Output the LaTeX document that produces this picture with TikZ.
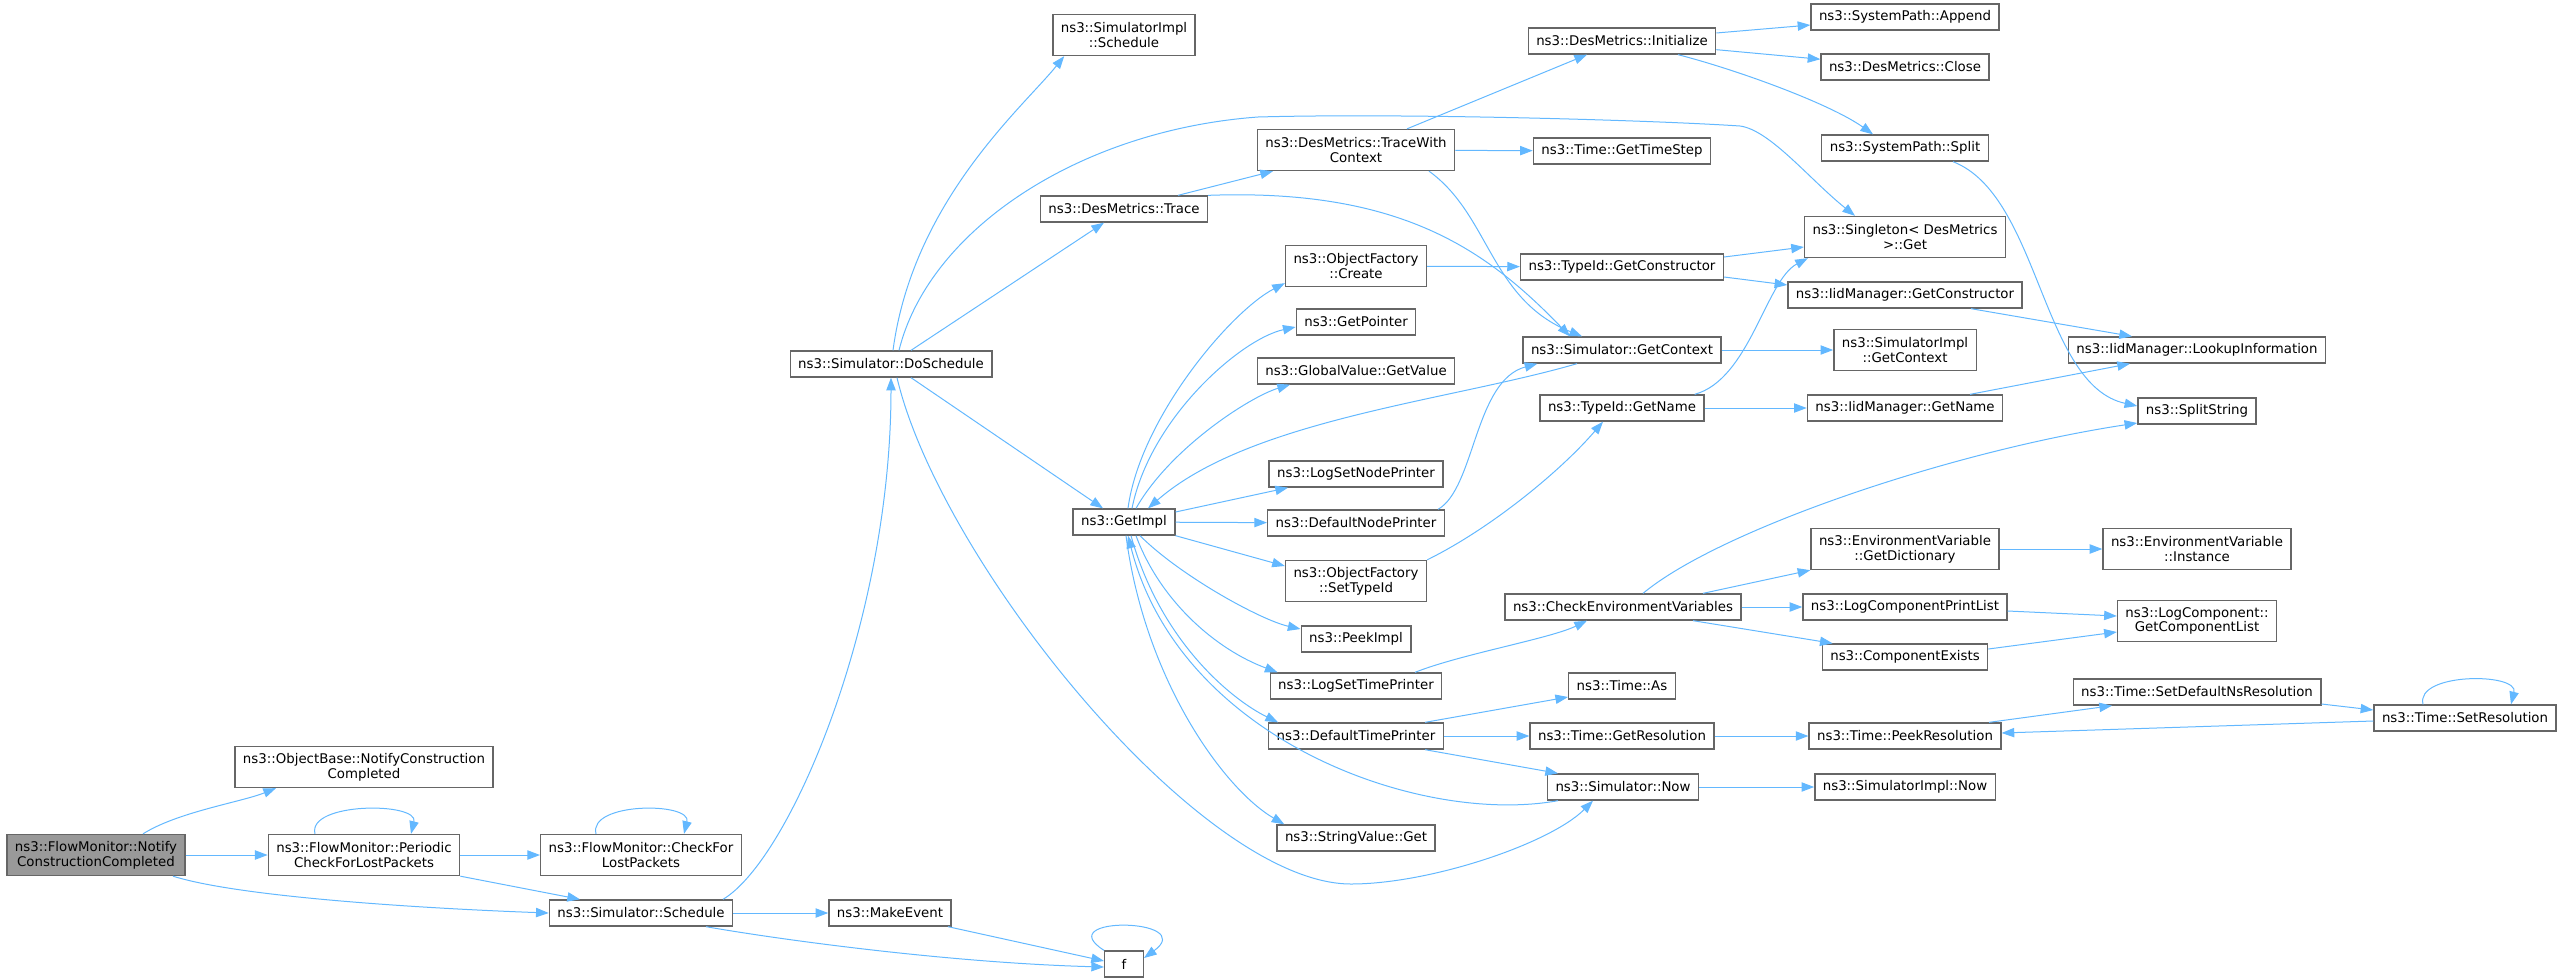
\documentclass[tikz,border=0pt]{standalone}
\usepackage{fontspec}
\setmainfont{DejaVu Sans}
\usetikzlibrary{arrows.meta}
\definecolor{callc}{HTML}{63B8FF}
\definecolor{boxc}{HTML}{666666}
\definecolor{rootc}{HTML}{999999}
\begin{document}
\begin{tikzpicture}[x=0.75pt,y=-0.75pt,
  fn/.style={draw=boxc,fill=white,line width=1pt,inner xsep=6pt,inner ysep=2pt,minimum height=19.5pt,align=center,font=\fontsize{10}{11.1}\selectfont},
  two/.style={fn,minimum height=30.75pt},
  rootfn/.style={two,fill=rootc},
  call/.style={draw=callc,line width=0.75pt,-{Triangle[length=9.5pt,width=7pt]}}]
\useasboundingbox (0,0) rectangle (2563,979);

\node[rootfn] (nc) at (96,855) {ns3::FlowMonitor::Notify\\ConstructionCompleted};
\node[two] (ob) at (364,767) {ns3::ObjectBase::NotifyConstruction\\Completed};
\node[two] (pc) at (364,855) {ns3::FlowMonitor::Periodic\\CheckForLostPackets};
\node[two] (cf) at (641,855) {ns3::FlowMonitor::CheckFor\\LostPackets};
\node[fn] (sch) at (641,913) {ns3::Simulator::Schedule};
\node[fn] (dos) at (891,364) {ns3::Simulator::DoSchedule};
\node[fn] (mk) at (890,913) {ns3::MakeEvent};
\node[two] (sis) at (1124,35) {ns3::SimulatorImpl\\::Schedule};
\node[fn] (tr) at (1124,209) {ns3::DesMetrics::Trace};
\node[fn] (gi) at (1124,522) {ns3::GetImpl};
\node[fn,minimum width=29pt] (f) at (1124,964) {f};
\node[two] (twc) at (1356,150) {ns3::DesMetrics::TraceWith\\Context};
\node[two] (ofc) at (1356,266) {ns3::ObjectFactory\\::Create};
\node[fn] (gp) at (1356,322) {ns3::GetPointer};
\node[fn] (gv) at (1356,371) {ns3::GlobalValue::GetValue};
\node[fn] (lsn) at (1356,474) {ns3::LogSetNodePrinter};
\node[fn] (dnp) at (1356,523) {ns3::DefaultNodePrinter};
\node[two] (sti) at (1356,581) {ns3::ObjectFactory\\::SetTypeId};
\node[fn] (pk) at (1356,639) {ns3::PeekImpl};
\node[fn] (lst) at (1356,686) {ns3::LogSetTimePrinter};
\node[fn] (dtp) at (1356,736) {ns3::DefaultTimePrinter};
\node[fn] (sv) at (1356,838) {ns3::StringValue::Get};
\node[fn] (ini) at (1622,41) {ns3::DesMetrics::Initialize};
\node[fn] (gts) at (1622,151) {ns3::Time::GetTimeStep};
\node[fn] (tgc) at (1622,267) {ns3::TypeId::GetConstructor};
\node[fn] (gc) at (1622,350) {ns3::Simulator::GetContext};
\node[fn] (tgn) at (1622,408) {ns3::TypeId::GetName};
\node[fn] (cev) at (1623,607) {ns3::CheckEnvironmentVariables};
\node[fn] (tas) at (1622,686) {ns3::Time::As};
\node[fn] (grs) at (1622,736) {ns3::Time::GetResolution};
\node[fn] (now) at (1623,787) {ns3::Simulator::Now};
\node[fn] (app) at (1905,17) {ns3::SystemPath::Append};
\node[fn] (cls) at (1905,67) {ns3::DesMetrics::Close};
\node[fn] (spl) at (1905,148) {ns3::SystemPath::Split};
\node[two] (sg) at (1905,237) {ns3::Singleton< DesMetrics\\>::Get};
\node[fn] (igc) at (1905,295) {ns3::IidManager::GetConstructor};
\node[two] (sigc) at (1905,350) {ns3::SimulatorImpl\\::GetContext};
\node[fn] (ign) at (1905,408) {ns3::IidManager::GetName};
\node[two] (gd) at (1905,549) {ns3::EnvironmentVariable\\::GetDictionary};
\node[fn] (lcp) at (1905,607) {ns3::LogComponentPrintList};
\node[fn] (ce) at (1905,657) {ns3::ComponentExists};
\node[fn] (prs) at (1905,736) {ns3::Time::PeekResolution};
\node[fn] (sin) at (1905,787) {ns3::SimulatorImpl::Now};
\node[fn] (lki) at (2197,350) {ns3::IidManager::LookupInformation};
\node[fn] (ss) at (2197,411) {ns3::SplitString};
\node[two] (evi) at (2197,549) {ns3::EnvironmentVariable\\::Instance};
\node[two] (gcl) at (2197,621) {ns3::LogComponent::\\GetComponentList};
\node[fn] (sdn) at (2197,692) {ns3::Time::SetDefaultNsResolution};
\node[fn] (srs) at (2465,718) {ns3::Time::SetResolution};

\draw[call] ([shift={(47,0)}]nc.north) .. controls +(35,-22) and +(-35,14) .. ([shift={(-88,0)}]ob.south);
\draw[call] (nc) -- (pc);
\draw[call] ([shift={(77,0)}]nc.south) .. controls +(70,22) and +(-110,-4) .. (sch.west);
\draw[call] ([shift={(-49,0)}]pc.north) .. controls +(-8,-32) and +(8,-32) .. ([shift={(47,0)}]pc.north);
\draw[call] (pc) -- (cf);
\draw[call] (pc.south east) -- ([shift={(-61,0)}]sch.north);
\draw[call] ([shift={(-45,0)}]cf.north) .. controls +(-8,-32) and +(8,-32) .. ([shift={(43,0)}]cf.north);
\draw[call] ([shift={(82,0)}]sch.north) .. controls +(67,-40) and +(0,243) .. (dos.south);
\draw[call] (sch) -- (mk);
\draw[call] ([shift={(65,0)}]sch.south) .. controls +(80,14) and +(-150,-4) .. ([shift={(0,3)}]f.west);
\draw[call] ([shift={(58,0)}]mk.south) -- ([shift={(0,-3)}]f.west);
\draw[call] (f.north west) .. controls +(-55,-35) and +(55,-40) .. ([shift={(0,-6)}]f.east);
\draw[call] ([shift={(2,0)}]dos.north) .. controls +(20,-150) and +(-40,50) .. ([shift={(12,0)}]sis.south west);
\draw[call] ([shift={(8,0)}]dos.north) .. controls +(30,-121) and +(-178,13) .. (1258,117) .. controls +(142,-4) and +(-90,-6) .. (1740,126) .. controls +(30,4) and +(-45,-36) .. ([shift={(-50,0)}]sg.north);
\draw[call] ([shift={(20,0)}]dos.north) -- ([shift={(-20,0)}]tr.south);
\draw[call] ([shift={(20,0)}]dos.south) -- ([shift={(-21,0)}]gi.north);
\draw[call] ([shift={(6,0)}]dos.south) .. controls +(43,183) and +(-151,0) .. (1351,884) .. controls +(79,0) and +(-43,43) .. ([shift={(-30,0)}]now.south);
\draw[call] ([shift={(54,0)}]tr.north) -- ([shift={(-83,0)}]twc.south);
\draw[call] (tr.north east) .. controls +(192,-7) and +(-84,-87) .. ([shift={(-52,0)}]gc.north);
\draw[call] ([shift={(51,0)}]twc.north) -- ([shift={(-35,0)}]ini.south);
\draw[call] (twc) -- (gts);
\draw[call] ([shift={(73,0)}]twc.south) .. controls +(61,44) and +(-92,-37) .. ([shift={(-40,0)}]gc.north);
\draw[call] (ini) -- (app);
\draw[call] (ini) -- (cls);
\draw[call] ([shift={(56,0)}]ini.south) .. controls +(62,16) and +(-42,-30) .. ([shift={(-32,0)}]spl.north);
\draw[call] ([shift={(48,0)}]spl.south) .. controls +(87,34) and +(-96,-21) .. ([shift={(0,-5)}]ss.west);
\draw[call] (ofc) -- (tgc);
\draw[call] ([shift={(0,-10)}]tgc.east) -- ([shift={(0,10)}]sg.west);
\draw[call] ([shift={(0,10)}]tgc.east) -- ([shift={(0,-10)}]igc.west);
\draw[call] ([shift={(66,0)}]igc.south) -- ([shift={(-65,0)}]lki.north);
\draw[call] (gc) -- (sigc);
\draw[call] ([shift={(-45,0)}]gc.south) .. controls +(-127,37) and +(102,-89) .. ([shift={(24,0)}]gi.north);
\draw[call] ([shift={(-10,0)}]tgn.north east) .. controls +(55,-15) and +(-42,22) .. ([shift={(4,0)}]sg.south west);
\draw[call] (tgn) -- (ign);
\draw[call] ([shift={(65,0)}]ign.north) -- ([shift={(-67,0)}]lki.south);
\draw[call] ([shift={(4,0)}]gi.north) .. controls +(12,-90) and +(-54,28) .. ([shift={(0,-4)}]ofc.south west);
\draw[call] ([shift={(8,0)}]gi.north) .. controls +(18,-90) and +(-55,12) .. ([shift={(0,5)}]gp.west);
\draw[call] ([shift={(12,0)}]gi.north) .. controls +(34,-60) and +(-40,12) .. ([shift={(-66,0)}]gv.south);
\draw[call] ([shift={(0,-10)}]gi.east) -- ([shift={(-68,0)}]lsn.south);
\draw[call] (gi) -- (dnp);
\draw[call] (gi.south east) -- ([shift={(0,-15)}]sti.west);
\draw[call] ([shift={(16,0)}]gi.south) .. controls +(40,40) and +(-40,-9) .. ([shift={(0,-10)}]pk.west);
\draw[call] ([shift={(12,0)}]gi.south) .. controls +(24,65) and +(-62,-23) .. ([shift={(8,0)}]lst.north west);
\draw[call] ([shift={(7,0)}]gi.south) .. controls +(29,105) and +(-47,-23) .. ([shift={(10,0)}]dtp.north west);
\draw[call] ([shift={(2,0)}]gi.south) .. controls +(19,145) and +(-60,-35) .. ([shift={(8,0)}]sv.north west);
\draw[call] ([shift={(82,0)}]dnp.north) .. controls +(37,-21) and +(-63,17) .. ([shift={(15,0)}]gc.south west);
\draw[call] (sti.north east) .. controls +(63,-31) and +(-43,50) .. ([shift={(-19,0)}]tgn.south);
\draw[call] ([shift={(59,0)}]lst.north) .. controls +(45,-18) and +(-37,18) .. ([shift={(-36,0)}]cev.south);
\draw[call] ([shift={(69,0)}]dtp.north) -- ([shift={(0,11)}]tas.west);
\draw[call] (dtp) -- (grs);
\draw[call] ([shift={(69,0)}]dtp.south) -- ([shift={(-65,0)}]now.north);
\draw[call] ([shift={(-65,0)}]now.south) .. controls +(-138,25) and +(52,204) .. ([shift={(4,0)}]gi.south);
\draw[call] (now) -- (sin);
\draw[call] ([shift={(20,0)}]cev.north) .. controls +(77,-64) and +(-185,28) .. ([shift={(0,12)}]ss.west);
\draw[call] ([shift={(80,0)}]cev.north) -- (gd.south west);
\draw[call] (cev) -- (lcp);
\draw[call] ([shift={(70,0)}]cev.south) -- ([shift={(11,0)}]ce.north west);
\draw[call] (gd) -- (evi);
\draw[call] ([shift={(0,4)}]lcp.east) -- ([shift={(0,-5)}]gcl.west);
\draw[call] ([shift={(0,-8)}]ce.east) -- ([shift={(0,11)}]gcl.west);
\draw[call] (grs) -- (prs);
\draw[call] ([shift={(84,0)}]prs.north) -- ([shift={(-85,0)}]sdn.south);
\draw[call] ([shift={(0,12)}]sdn.east) -- ([shift={(0,-8)}]srs.west);
\draw[call] ([shift={(0,3)}]srs.west) -- ([shift={(0,-3)}]prs.east);
\draw[call] ([shift={(-42,0)}]srs.north) .. controls +(-8,-32) and +(8,-32) .. ([shift={(46,0)}]srs.north);
\end{tikzpicture}
\end{document}
